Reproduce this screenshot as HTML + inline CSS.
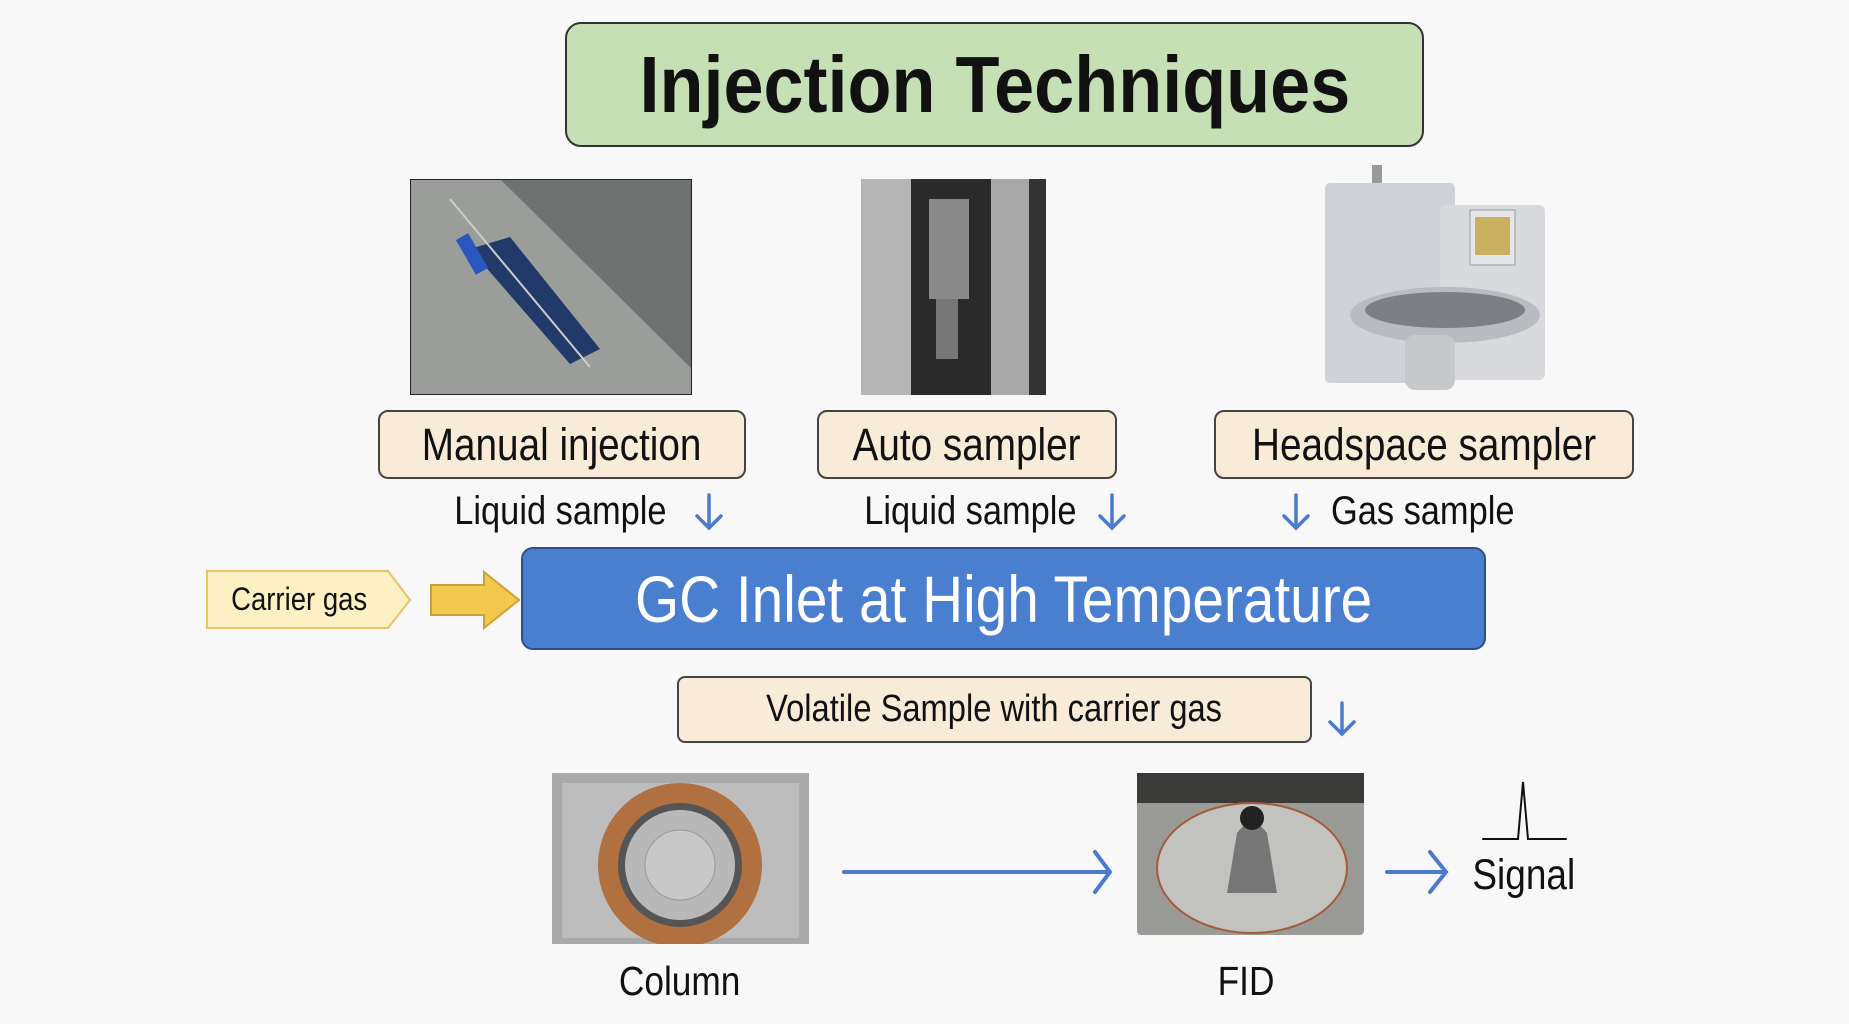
<!DOCTYPE html>
<html><head><meta charset="utf-8"><style>
*{margin:0;padding:0;box-sizing:border-box}
body{width:1849px;height:1024px;background:#f8f8f8;position:relative;overflow:hidden;font-family:"Liberation Sans",sans-serif;color:#111}
.a{position:absolute}
.box{position:absolute;display:flex;align-items:center;justify-content:center;white-space:nowrap}
.n{display:inline-block;transform:scaleX(0.86)}
.lbl{background:#f8ecd9;border:2px solid #444;border-radius:10px;font-size:45px}
</style></head><body>

<div class="box" style="left:565px;top:22px;width:859px;height:125px;background:#c6e0b6;border:2px solid #333;border-radius:16px;font-size:80px;font-weight:bold"><span class="n" style="transform:scaleX(0.9)">Injection Techniques</span></div>

<svg class="a" style="left:410px;top:179px" width="282" height="216">
<rect width="282" height="216" fill="#6e7371"/>
<polygon points="0,0 90,0 282,190 282,216 0,216" fill="#9a9d9a"/>
<polygon points="60,70 100,58 190,170 160,185" fill="#223a6a"/>
<rect x="55" y="55" width="14" height="40" fill="#2b55c0" transform="rotate(-30 62 75)"/>
<line x1="40" y1="20" x2="180" y2="188" stroke="#ccc" stroke-width="2"/>
<rect x="0.5" y="0.5" width="281" height="215" fill="none" stroke="#222"/>
</svg>
<svg class="a" style="left:861px;top:179px" width="185" height="216">
<rect width="185" height="216" fill="#9a9a9a"/>
<rect x="50" y="0" width="80" height="216" fill="#2a2a2a"/>
<rect x="0" y="0" width="50" height="216" fill="#b5b5b5"/>
<rect x="130" y="0" width="45" height="216" fill="#a8a8a8"/>
<rect x="68" y="20" width="40" height="100" fill="#8a8a8a"/>
<rect x="75" y="120" width="22" height="60" fill="#777"/>
<rect x="168" y="0" width="17" height="216" fill="#333"/>
</svg>
<svg class="a" style="left:1320px;top:165px" width="230" height="230">
<rect x="52" y="0" width="10" height="20" fill="#999"/>
<rect x="5" y="18" width="130" height="200" rx="5" fill="#cfd2d6"/>
<rect x="120" y="40" width="105" height="175" rx="6" fill="#d8dadd"/>
<rect x="150" y="45" width="45" height="55" fill="#e4e6e8" stroke="#999"/>
<rect x="155" y="52" width="35" height="38" fill="#c8b060"/>
<ellipse cx="125" cy="150" rx="95" ry="28" fill="#b8bcc0"/>
<ellipse cx="125" cy="145" rx="80" ry="18" fill="#7c8085"/>
<rect x="85" y="170" width="50" height="55" rx="10" fill="#c6c9cc"/>
</svg>

<div class="box lbl" style="left:378px;top:410px;width:368px;height:69px"><span class="n">Manual injection</span></div>
<div class="box lbl" style="left:817px;top:410px;width:300px;height:69px"><span class="n">Auto sampler</span></div>
<div class="box lbl" style="left:1214px;top:410px;width:420px;height:69px"><span class="n">Headspace sampler</span></div>

<div class="box" style="left:440px;top:490px;width:240px;height:42px;font-size:40px"><span class="n">Liquid sample</span></div>
<div class="box" style="left:850px;top:490px;width:240px;height:42px;font-size:40px"><span class="n">Liquid sample</span></div>
<div class="box" style="left:1320px;top:490px;width:205px;height:42px;font-size:40px"><span class="n">Gas sample</span></div>

<svg class="a" style="left:0;top:0" width="1849" height="1024" fill="none" stroke="#4a7bcc" stroke-width="3.5" stroke-linecap="round">
<path d="M709 495V528M697 516L709 528L721 516"/>
<path d="M1112 495V528M1100 516L1112 528L1124 516"/>
<path d="M1296 495V528M1284 516L1296 528L1308 516"/>
<path d="M1342 703V734M1330 722L1342 734L1354 722"/>
<path d="M844 872H1108M1095 852L1110 872L1095 892" stroke-width="4"/>
<path d="M1387 872H1445M1430 852L1446 872L1430 892" stroke-width="4"/>
<path d="M1483 839H1518L1523 782L1528 839H1566" stroke="#111" stroke-width="2"/>
<polygon points="207,571 388,571 410,600 388,628 207,628" fill="#fdf1c4" stroke="#e5c665" stroke-width="2"/>
<polygon points="431,585 484,585 484,572 519,600 484,628 484,615 431,615" fill="#f2c94c" stroke="#c9a23a" stroke-width="2"/>
</svg>
<div class="box" style="left:207px;top:571px;width:185px;height:57px;font-size:32px"><span class="n">Carrier gas</span></div>

<div class="box" style="left:521px;top:547px;width:965px;height:103px;background:#4a7fd0;border:2px solid #2c4f8a;border-radius:12px;color:#fff;font-size:66px"><span class="n">GC Inlet at High Temperature</span></div>

<div class="box" style="left:677px;top:676px;width:635px;height:67px;background:#f8ecd9;border:2px solid #444;border-radius:8px;font-size:38px"><span class="n">Volatile Sample with carrier gas</span></div>

<svg class="a" style="left:552px;top:773px" width="257" height="171">
<rect width="257" height="171" fill="#a9a9a9"/>
<rect x="10" y="10" width="237" height="155" fill="#bdbdbd"/>
<circle cx="128" cy="92" r="80" fill="#555"/>
<circle cx="128" cy="92" r="72" fill="none" stroke="#b07040" stroke-width="20"/>
<circle cx="128" cy="92" r="55" fill="#b8b8b8"/>
<circle cx="128" cy="92" r="35" fill="#c8c8c8" stroke="#999"/>
</svg>
<svg class="a" style="left:1137px;top:773px" width="227" height="162">
<rect width="227" height="162" rx="4" fill="#9a9a96"/>
<rect x="0" y="0" width="227" height="30" fill="#3a3a38"/>
<ellipse cx="115" cy="95" rx="95" ry="65" fill="#c2c2be" stroke="#a55a3a" stroke-width="2"/>
<path d="M100 60 Q115 40 130 60 L140 120 L90 120 Z" fill="#777"/>
<circle cx="115" cy="45" r="12" fill="#222"/>
</svg>

<div class="box" style="left:580px;top:958px;width:200px;height:46px;font-size:41px"><span class="n">Column</span></div>
<div class="box" style="left:1186px;top:958px;width:120px;height:46px;font-size:41px"><span class="n">FID</span></div>
<div class="box" style="left:1465px;top:852px;width:118px;height:46px;font-size:43px"><span class="n">Signal</span></div>
</body></html>
